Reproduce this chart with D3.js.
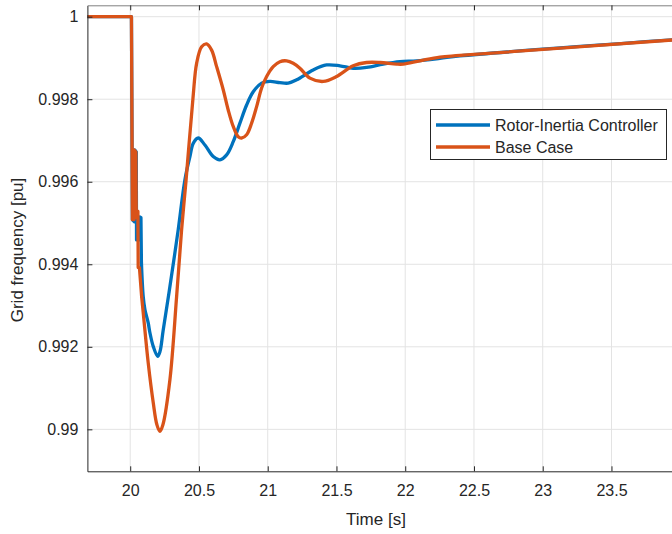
<!DOCTYPE html>
<html>
<head>
<meta charset="utf-8">
<script src="https://cdn.jsdelivr.net/npm/d3@7"></script>
<style>
  html, body { margin: 0; padding: 0; background: #fff; }
  svg { display: block; font-family: "Liberation Sans", Arial, Helvetica, sans-serif; }
</style>
</head>
<body>
<svg id="chart" width="672" height="534"></svg>
<script>
// ---- Data ----
const seriesNames = ["Rotor-Inertia Controller", "Base Case"];
const seriesColors = ["#0072BD", "#D95319"];

// switching transient right after the disturbance (drawn with straight segments)
const rotorStepTime = [19.6, 20.009, 20.016, 20.031, 20.033, 20.044, 20.046, 20.067, 20.069, 20.078, 20.0815];
const rotorStepFreq = [1.0, 1.0, 0.99508, 0.99503, 0.99677, 0.99672, 0.99459, 0.99459, 0.99515, 0.99513, 0.99404];
const baseStepTime = [19.6, 20.009, 20.016, 20.027, 20.029, 20.041, 20.044, 20.056, 20.058, 20.067, 20.0829];
const baseStepFreq = [1.0, 1.0, 0.99508, 0.99508, 0.99677, 0.99672, 0.99513, 0.99528, 0.99392, 0.99392, 0.99322];

// smooth response afterwards
const rotorTime = [20.0815, 20.0945, 20.1069, 20.1309, 20.1433, 20.1673, 20.1993, 20.216, 20.24, 20.2887,
  20.3491, 20.3978, 20.4342, 20.4582, 20.4945, 20.5433, 20.6036, 20.6524, 20.7011, 20.7491, 20.7978,
  20.8465, 20.8945, 20.9556, 21.0156, 21.0887, 21.1491, 21.2102, 21.3309, 21.4284, 21.5251, 21.6218,
  21.7193, 21.84, 21.9615, 22.0829, 22.2524, 22.3978, 24.0];
const rotorFreq = [0.99404, 0.99322, 0.99290, 0.99258, 0.99234, 0.99201, 0.99177, 0.99188, 0.99241, 0.99346,
  0.99484, 0.99605, 0.99661, 0.99693, 0.99706, 0.99689, 0.99661, 0.99653, 0.99665, 0.99697, 0.99742,
  0.99786, 0.99818, 0.99839, 0.99843, 0.99840, 0.99839, 0.99847, 0.99871, 0.99883, 0.99881, 0.99875,
  0.99877, 0.99885, 0.99891, 0.99893, 0.99899, 0.99905, 0.99945];

const baseTime = [20.0829, 20.0945, 20.1309, 20.1673, 20.1942, 20.216, 20.2378, 20.2887, 20.3375, 20.3738,
  20.4051, 20.456, 20.4829, 20.5193, 20.5556, 20.592, 20.6284, 20.6764, 20.7127, 20.7491, 20.7855, 20.8102,
  20.8465, 20.8829, 20.9193, 20.9556, 20.992, 21.04, 21.0887, 21.1375, 21.1855, 21.2342, 21.3069, 21.4036,
  21.5011, 21.6218, 21.7193, 21.816, 21.9375, 21.9855, 22.1069, 22.2524, 22.3978, 24.0];
const baseFreq = [0.99322, 0.99283, 0.99161, 0.99065, 0.99011, 0.98995, 0.99011, 0.99120, 0.99322, 0.99484,
  0.99600, 0.99801, 0.99887, 0.99927, 0.99934, 0.99919, 0.99879, 0.99823, 0.99774, 0.99734, 0.99709, 0.99706,
  0.99714, 0.99742, 0.99782, 0.99827, 0.99855, 0.99879, 0.99891, 0.99893, 0.99887, 0.99875, 0.99851, 0.99843,
  0.99855, 0.99881, 0.99889, 0.99889, 0.99885, 0.99885, 0.99893, 0.99902, 0.99906, 0.99945];

const xTicks = [20, 20.5, 21, 21.5, 22, 22.5, 23, 23.5];
const yTicks = [0.99, 0.992, 0.994, 0.996, 0.998, 1];
const xTickLabels = ["20", "20.5", "21", "21.5", "22", "22.5", "23", "23.5"];
const yTickLabels = ["0.99", "0.992", "0.994", "0.996", "0.998", "1"];

// ---- Layout ----
const plot = { left: 87.4, right: 672, top: 5.3, bottom: 471.3 };
const x = d3.scaleLinear().domain([19.6886, 23.9402]).range([plot.left, plot.right]);
const y = d3.scaleLinear().domain([0.988983, 1.000276]).range([plot.bottom, plot.top]);

const svg = d3.select("#chart");
const textColor = "#262626";

// grid
const grid = svg.append("g");
grid.selectAll("line.gx").data(xTicks).enter().append("line")
  .attr("x1", d => x(d)).attr("x2", d => x(d))
  .attr("y1", plot.top).attr("y2", plot.bottom)
  .attr("stroke", "#e3e3e3").attr("stroke-width", 1);
grid.selectAll("line.gy").data(yTicks).enter().append("line")
  .attr("y1", d => y(d)).attr("y2", d => y(d))
  .attr("x1", plot.left).attr("x2", plot.right)
  .attr("stroke", "#e3e3e3").attr("stroke-width", 1);

// clip
svg.append("clipPath").attr("id", "clip").append("rect")
  .attr("x", plot.left).attr("y", plot.top)
  .attr("width", plot.right - plot.left).attr("height", plot.bottom - plot.top);

const stepLine = d3.line().x(d => x(d[0])).y(d => y(d[1])).curve(d3.curveLinear);
const smoothLine = d3.line().x(d => x(d[0])).y(d => y(d[1])).curve(d3.curveCatmullRom.alpha(0.5));
const zip = (a, b) => a.map((t, i) => [t, b[i]]);

const series = [
  { step: zip(rotorStepTime, rotorStepFreq), smooth: zip(rotorTime, rotorFreq), color: seriesColors[0] },
  { step: zip(baseStepTime, baseStepFreq), smooth: zip(baseTime, baseFreq), color: seriesColors[1] }
];

const lines = svg.append("g").attr("clip-path", "url(#clip)");
series.forEach(s => {
  const g = lines.append("g").attr("fill", "none").attr("stroke", s.color)
    .attr("stroke-width", 3.3).attr("stroke-linejoin", "round").attr("stroke-linecap", "round");
  g.append("path").datum(s.step).attr("d", stepLine);
  g.append("path").datum(s.smooth).attr("d", smoothLine);
});

// axes (box)
const xAxis = d3.axisBottom(x).tickValues(xTicks).tickFormat((d, i) => xTickLabels[i])
  .tickSizeInner(-5).tickSizeOuter(0).tickPadding(13);
const yAxis = d3.axisLeft(y).tickValues(yTicks).tickFormat((d, i) => yTickLabels[i])
  .tickSizeInner(-5).tickSizeOuter(0).tickPadding(9);
const xTop = d3.axisTop(x).tickValues(xTicks).tickFormat("").tickSizeInner(-5).tickSizeOuter(0);

const gx = svg.append("g").attr("transform", `translate(0,${plot.bottom})`).call(xAxis);
const gy = svg.append("g").attr("transform", `translate(${plot.left},0)`).call(yAxis);
const gt = svg.append("g").attr("transform", `translate(0,${plot.top})`).call(xTop);
[gx, gy, gt].forEach(g => {
  g.selectAll("path.domain").attr("stroke", textColor).attr("stroke-width", 1);
  g.selectAll(".tick line").attr("stroke", textColor).attr("stroke-width", 1);
  g.selectAll(".tick text").attr("fill", textColor).attr("font-size", 16)
    .attr("font-family", "'Liberation Sans', Arial, sans-serif");
});
gt.select("path.domain").attr("stroke", "#808080");

// axis labels
svg.append("text").attr("x", 376).attr("y", 525).attr("text-anchor", "middle")
  .attr("fill", textColor).attr("font-size", 17).text("Time [s]");
svg.append("text").attr("transform", "translate(23,250) rotate(-90)").attr("text-anchor", "middle")
  .attr("fill", textColor).attr("font-size", 17).text("Grid frequency [pu]");

// legend
const lg = svg.append("g");
lg.append("rect").attr("x", 430.5).attr("y", 109.5).attr("width", 236).attr("height", 50)
  .attr("fill", "#fff").attr("stroke", textColor).attr("stroke-width", 1);
seriesNames.forEach((name, i) => {
  const yy = 125 + i * 22;
  lg.append("line").attr("x1", 436).attr("x2", 490).attr("y1", yy).attr("y2", yy)
    .attr("stroke", seriesColors[i]).attr("stroke-width", 3.3);
  lg.append("text").attr("x", 495).attr("y", yy + 5.5).attr("fill", textColor)
    .attr("font-size", 16).text(name);
});
</script>
</body>
</html>
